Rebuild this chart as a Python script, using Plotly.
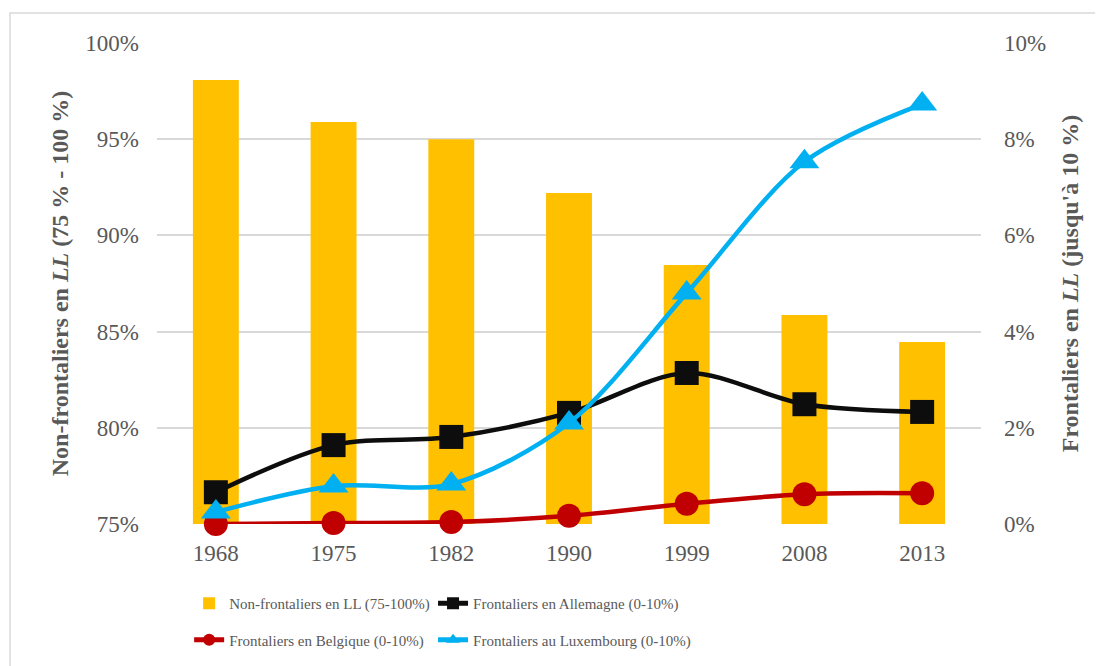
import plotly.graph_objects as go

years = ["1968", "1975", "1982", "1990", "1999", "2008", "2013"]
non_frontaliers = [0.9808, 0.9590, 0.9500, 0.9220, 0.8846, 0.8586, 0.8446]
allemagne = [0.0066, 0.0164, 0.0181, 0.0231, 0.0314, 0.0249, 0.0233]
belgique = [0.0000, 0.0002, 0.0004, 0.0017, 0.0042, 0.0062, 0.0064]
luxembourg = [0.0025, 0.0079, 0.0083, 0.0210, 0.0480, 0.0753, 0.0873]

GREY = "#595959"
FONT = "Liberation Serif, Times New Roman, serif"

fig = go.Figure()

fig.add_trace(go.Bar(
    x=years, y=non_frontaliers,
    name="Non-frontaliers en LL (75-100%)",
    marker=dict(color="#FFC000", line=dict(width=0)),
    width=0.39,
    legend="legend", legendgroup="a",
))

# (name, values, colour, marker, size, legend column)
line_series = [
    ("Frontaliers en Allemagne (0-10%)", allemagne, "#0D0D0D", "square", 24, "legend2"),
    ("Frontaliers en Belgique (0-10%)", belgique, "#C00000", "circle", 24, "legend"),
    ("Frontaliers au Luxembourg (0-10%)", luxembourg, "#00B0F0", "triangle-up", 26, "legend2"),
]
for i, (name, vals, color, symbol, size, leg) in enumerate(line_series):
    fig.add_trace(go.Scatter(
        x=years, y=vals, yaxis="y2",
        name=name, mode="lines+markers",
        line=dict(color=color, width=4.5, shape="spline", smoothing=0.9),
        marker=dict(color=color, symbol=symbol, size=size),
        cliponaxis=False,
        legend=leg, legendgroup=f"g{i}",
    ))

legend_common = dict(
    orientation="v", xanchor="left", yanchor="top", y=-0.131,
    font=dict(family=FONT, size=15, color=GREY),
    bgcolor="rgba(0,0,0,0)", itemsizing="constant", tracegroupgap=14,
)

# page body adds 8px offset, so margins are shifted left/up by 8
fig.update_layout(
    width=1103, height=666,
    margin=dict(l=149, r=130, t=35, b=150, autoexpand=False),
    paper_bgcolor="white", plot_bgcolor="white",
    font=dict(family=FONT, size=23, color=GREY),
    xaxis=dict(type="category", showgrid=False, showline=False, ticks="",
               automargin=False,
               tickfont=dict(size=23, color=GREY), ticklabelstandoff=13),
    yaxis=dict(range=[0.75, 1.0], dtick=0.05, tickformat=".0%", automargin=False,
               showgrid=True, gridcolor="#D9D9D9", gridwidth=1.5, zeroline=False,
               tickfont=dict(size=23, color=GREY), ticklabelstandoff=17,
               title=dict(text="<b>Non-frontaliers en <i>LL</i> (75 % - 100 %)</b>",
                          font=dict(size=24, color=GREY), standoff=9)),
    yaxis2=dict(range=[0, 0.10], dtick=0.02, tickformat=".0%", overlaying="y",
                side="right", showgrid=False, zeroline=False, automargin=False,
                tickfont=dict(size=23, color=GREY), ticklabelstandoff=22,
                title=dict(text="<b>Frontaliers en <i>LL</i> (jusqu'à 10 %)</b>",
                           font=dict(size=24, color=GREY), standoff=16)),
    legend=dict(x=0.039, **legend_common),
    legend2=dict(x=0.335, **legend_common),
    shapes=[dict(type="rect", xref="paper", yref="paper",
                 x0=-0.1784, x1=1.3, y0=-0.5, y1=1.0624,
                 line=dict(color="#D9D9D9", width=1.5), layer="below")],
)

fig.write_html("out.html")
